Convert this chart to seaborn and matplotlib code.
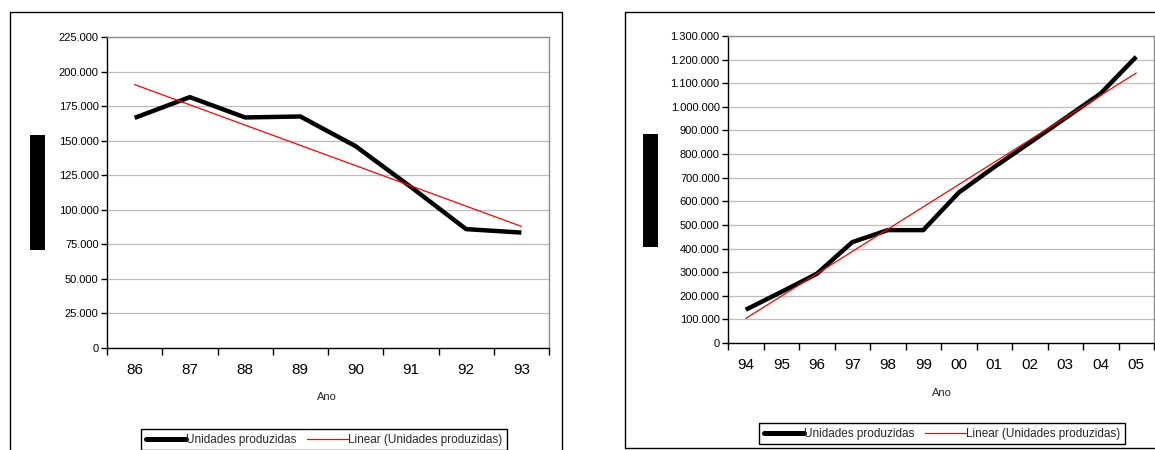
import numpy as np
import pandas as pd
import matplotlib
matplotlib.use("Agg")
import matplotlib.pyplot as plt
import seaborn as sns
from matplotlib.patches import Rectangle
from matplotlib.lines import Line2D
from matplotlib.ticker import FuncFormatter

sns.set_style("white")
plt.rcParams["font.family"] = ["Liberation Sans", "DejaVu Sans"]

# Unidades produzidas por ano
anos_a = ["86", "87", "88", "89", "90", "91", "92", "93"]
unidades_a = [166500, 181500, 166800, 167500, 146000, 116500, 86000, 83500]

anos_b = ["94", "95", "96", "97", "98", "99", "00", "01", "02", "03", "04", "05"]
unidades_b = [141000, 216000, 293000, 427000, 478000, 478000, 637000,
              745000, 848000, 952000, 1057000, 1212000]

yticks_a = list(range(0, 225001, 25000))
yticks_b = list(range(0, 1300001, 100000))

rotulo_serie = "Unidades produzidas"
rotulo_tendencia = "Linear (Unidades produzidas)"
rotulo_x = "Ano"

W, H = 1155, 450
fig = plt.figure(figsize=(W / 100, H / 100), dpi=100)


def caixa(l, t, r, b):
    return [l / W, 1 - b / H, (r - l) / W, (b - t) / H]


def milhar(v, _):
    return f"{v:,.0f}".replace(",", ".")


def painel(area, moldura, anos, valores, yticks, pos_ano, pos_legenda, bloco):
    # moldura do gráfico
    l, t, r, b = moldura
    fig.patches.append(Rectangle((l / W, 1 - b / H), (r - l) / W, (b - t) / H,
                                 transform=fig.transFigure, fill=False,
                                 edgecolor="black", lw=1.0, zorder=0))

    ax = fig.add_axes(caixa(*area))
    n = len(anos)
    df = pd.DataFrame({"pos": np.arange(n), "valor": valores})
    coef = np.polyfit(df["pos"], df["valor"], 1)
    df["tendencia"] = np.polyval(coef, df["pos"])

    sns.lineplot(data=df, x="pos", y="valor", ax=ax, color="black", lw=3.2,
                 label=rotulo_serie, solid_capstyle="butt", zorder=3)
    sns.lineplot(data=df, x="pos", y="tendencia", ax=ax, color="red", lw=0.9,
                 label=rotulo_tendencia, zorder=4)
    if ax.get_legend() is not None:
        ax.get_legend().remove()

    ax.set_xlim(-0.5, n - 0.5)
    ax.set_ylim(0, yticks[-1])
    ax.set_yticks(yticks)
    ax.yaxis.set_major_formatter(FuncFormatter(milhar))
    ax.set_xticks(range(n))
    ax.set_xticklabels(anos)
    ax.set_xticks(np.arange(-0.5, n), minor=True)
    ax.set_xlabel("")
    ax.set_ylabel("")

    ax.tick_params(axis="x", which="major", length=0, pad=11, labelsize=11,
                   labelcolor="black")
    ax.tick_params(axis="x", which="minor", length=5, width=1, direction="out",
                   color="black", bottom=True)
    ax.tick_params(axis="y", length=4, width=1, direction="out", color="black",
                   left=True, labelsize=8, pad=2, labelcolor="black")

    ax.grid(axis="y", color="#bdbdbd", lw=0.9)
    ax.grid(axis="x", visible=False)
    ax.set_axisbelow(True)
    for lado in ("left", "bottom"):
        ax.spines[lado].set_color("black")
        ax.spines[lado].set_linewidth(1.0)
    for lado in ("top", "right"):
        ax.spines[lado].set_color("#8c8c8c")
        ax.spines[lado].set_linewidth(1.0)

    fig.text(pos_ano[0] / W, 1 - pos_ano[1] / H, rotulo_x, ha="center",
             va="center", fontsize=8)

    bl, bt, br, bb = bloco
    fig.patches.append(Rectangle((bl / W, 1 - bb / H), (br - bl) / W, (bb - bt) / H,
                                 transform=fig.transFigure, facecolor="black",
                                 edgecolor="none", zorder=5))

    alcas = [Line2D([], [], color="black", lw=3.6),
             Line2D([], [], color="red", lw=0.9)]
    leg = fig.legend(alcas, [rotulo_serie, rotulo_tendencia], loc="upper left",
                     bbox_to_anchor=(pos_legenda[0] / W, 1 - pos_legenda[1] / H),
                     ncol=2, frameon=True, fancybox=False, edgecolor="black",
                     framealpha=1, fontsize=8.5, handlelength=3.4,
                     handletextpad=0.05, columnspacing=0.9, borderpad=0.4,
                     borderaxespad=0)
    leg.get_frame().set_linewidth(1.0)
    return ax


painel((107, 37, 549, 348), (10, 12, 562, 460), anos_a, unidades_a, yticks_a,
       (327, 397), (141, 429), (30, 135, 45, 250))
painel((728, 36, 1154, 343), (625, 12, 1170, 448), anos_b, unidades_b, yticks_b,
       (942, 393), (759, 423), (643, 134, 658, 247))

fig.savefig("out.png", dpi=100)
